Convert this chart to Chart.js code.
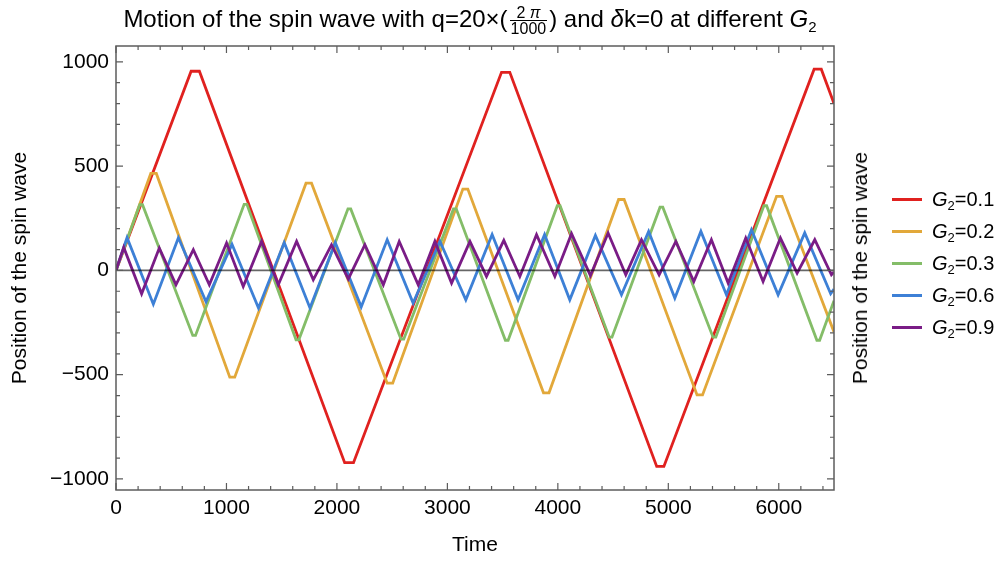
<!DOCTYPE html>
<html>
<head>
<meta charset="utf-8">
<script src="https://cdn.jsdelivr.net/npm/chart.js@4.4.1/dist/chart.umd.min.js"></script>
<style>
  body { margin: 0; background: #fff; }
  #wrap { position: relative; width: 996px; height: 563px; font-family: "Liberation Sans", Arial, sans-serif; color: #000; }
  #title { position: absolute; left: 0; top: 3px; width: 940px; text-align: center; font-size: 24px; line-height: 32px; white-space: nowrap; }
  .frac { display: inline-block; vertical-align: middle; text-align: center; font-size: 16px; line-height: 15px; margin: 0 2px; }
  .frac span { display: block; padding: 0 1px; }
  .frac span:first-child { border-bottom: 1px solid #000; }
  #title sub { font-size: 15px; vertical-align: -5px; line-height: 0; }
  #rtitle { position: absolute; left: 860px; top: 268px; transform: translate(-50%, -50%) rotate(-90deg); font-size: 21px; white-space: nowrap; }
  #legend { position: absolute; left: 892px; top: 183px; font-size: 20px; }
  #legend sub { font-size: 13px; vertical-align: -4px; line-height: 0; }
  .row { height: 32px; display: flex; align-items: center; }
  .sw { width: 30px; height: 3px; margin-right: 10px; }
</style>
</head>
<body>
<div id="wrap">
  <canvas id="chart" width="996" height="563"></canvas>
  <div id="title">Motion of the spin wave with q=20×(<span class="frac"><span>2 <i>π</i></span><span>1000</span></span>) and <i>δ</i>k=0 at different <i>G</i><sub>2</sub></div>
  <div id="rtitle">Position of the spin wave</div>
  <div id="legend"></div>
</div>
<script>
/* ---------- data (time, position) ---------- */
const labels = ["0.1", "0.2", "0.3", "0.6", "0.9"];
const colors = ["#e0211f", "#e2a83a", "#84bd68", "#3d80d6", "#7a1c86"];

const xTicks = [0, 1000, 2000, 3000, 4000, 5000, 6000];
const yTicks = [-1000, -500, 0, 500, 1000];

const t01 = [0, 680, 755, 2070, 2150, 3490, 3565, 4895, 4960, 6320, 6385, 6500];
const v01 = [0, 955, 955, -922, -922, 950, 950, -940, -940, 965, 965, 800];

const t02 = [0, 315, 365, 1030, 1075, 1720, 1770, 2455, 2505, 3140, 3185, 3870, 3920, 4550, 4600, 5260, 5310, 5980, 6030, 6500];
const v02 = [0, 465, 465, -512, -512, 418, 418, -541, -541, 390, 390, -587, -587, 340, 340, -597, -597, 355, 355, -295];

const t03 = [0, 215, 240, 695, 720, 1160, 1185, 1630, 1655, 2100, 2125, 2580, 2605, 3055, 3080, 3525, 3550, 3995, 4020, 4465, 4490, 4925, 4950, 5405, 5430, 5865, 5890, 6345, 6370, 6500];
const v03 = [0, 315, 315, -312, -312, 317, 317, -333, -333, 295, 295, -330, -330, 295, 295, -335, -335, 310, 310, -320, -320, 303, 303, -320, -320, 310, 310, -335, -335, -145];

const t06 = [0, 100, 338, 565, 815, 1050, 1290, 1523, 1756, 1985, 2220, 2455, 2690, 2932, 3167, 3405, 3640, 3880, 4108, 4340, 4576, 4822, 5059, 5295, 5526, 5753, 5994, 6235, 6470, 6500];
const v06 = [0, 157, -162, 157, -150, 125, -180, 133, -180, 133, -175, 147, -157, 140, -141, 172, -141, 172, -141, 168, -117, 187, -133, 187, -117, 195, -117, 180, -112, -90];

const t09 = [0, 70, 232, 392, 543, 700, 845, 1001, 1152, 1318, 1469, 1635, 1786, 1951, 2103, 2253, 2420, 2564, 2736, 2887, 3038, 3204, 3354, 3511, 3656, 3807, 3973, 4124, 4295, 4455, 4615, 4757, 4917, 5068, 5231, 5390, 5542, 5701, 5858, 6015, 6166, 6326, 6477, 6500];
const v09 = [0, 110, -112, 107, -69, 99, -69, 131, -77, 139, -69, 139, -45, 123, -41, 123, -69, 139, -69, 139, -61, 139, -29, 144, -29, 171, -29, 176, -25, 179, -21, 147, -21, 139, -53, 147, -61, 155, -53, 155, -13, 147, -21, -8];

const times = [t01, t02, t03, t06, t09];
const values = [v01, v02, v03, v06, v09];

/* ---------- frame, inward ticks, zero axis ---------- */
const framePlugin = {
  id: "frame",
  afterDatasetsDraw(chart) {
    const { ctx, chartArea: a, scales: { x, y } } = chart;
    ctx.save();
    // zero axis line
    ctx.strokeStyle = "rgba(0,0,0,0.6)";
    ctx.lineWidth = 1.8;
    const y0 = y.getPixelForValue(0);
    ctx.beginPath();
    ctx.moveTo(a.left, y0);
    ctx.lineTo(a.right, y0);
    ctx.stroke();

    // frame
    ctx.strokeStyle = "#5c5c5c";
    ctx.lineWidth = 1.5;
    ctx.strokeRect(a.left, a.top, a.right - a.left, a.bottom - a.top);

    // ticks (major + minor, on all four sides, pointing in)
    ctx.lineWidth = 1.2;
    ctx.beginPath();
    for (let t = 0; t <= 6500; t += 200) {
      const px = x.getPixelForValue(t);
      const len = t % 1000 === 0 ? 7 : 4;
      ctx.moveTo(px, a.bottom); ctx.lineTo(px, a.bottom - len);
      ctx.moveTo(px, a.top); ctx.lineTo(px, a.top + len);
    }
    for (let v = -1000; v <= 1000; v += 100) {
      const py = y.getPixelForValue(v);
      const len = v % 500 === 0 ? 7 : 4;
      ctx.moveTo(a.left, py); ctx.lineTo(a.left + len, py);
      ctx.moveTo(a.right, py); ctx.lineTo(a.right - len, py);
    }
    ctx.stroke();
    ctx.restore();
  }
};

const datasets = times.map((ts, i) => ({
  label: "G2=" + labels[i],
  data: ts.map((t, k) => ({ x: t, y: values[i][k] })),
  borderColor: colors[i],
  borderWidth: 2.8,
  pointRadius: 0,
  tension: 0,
  fill: false,
  order: 5 - i
}));

const minus = v => (v < 0 ? "\u2212" + Math.abs(v) : String(v));
const tickFont = { family: "Liberation Sans", size: 21 };

new Chart(document.getElementById("chart"), {
  type: "line",
  data: { datasets },
  plugins: [framePlugin],
  options: {
    responsive: false,
    animation: false,
    devicePixelRatio: 1,
    layout: { padding: { top: 46, right: 162, left: 0, bottom: 0 } },
    plugins: { legend: { display: false }, tooltip: { enabled: false } },
    scales: {
      x: {
        type: "linear",
        min: 0,
        max: 6500,
        afterFit: s => { s.height = 73; },
        afterBuildTicks: s => { s.ticks = xTicks.map(v => ({ value: v })); },
        grid: { display: false, drawTicks: false },
        border: { display: false },
        ticks: {
          autoSkip: false,
          padding: 6,
          maxRotation: 0,
          color: "#000",
          font: tickFont,
          callback: v => String(v)
        },
        title: {
          display: true,
          text: "Time",
          color: "#000",
          font: tickFont,
          padding: { top: 0, bottom: 5 }
        }
      },
      y: {
        type: "linear",
        min: -1053,
        max: 1076,
        afterFit: s => { s.width = 116; },
        afterBuildTicks: s => { s.ticks = yTicks.map(v => ({ value: v })); },
        grid: { display: false, drawTicks: false },
        border: { display: false },
        ticks: {
          autoSkip: false,
          padding: 7,
          color: "#000",
          font: tickFont,
          callback: v => minus(v)
        },
        title: {
          display: true,
          text: "Position of the spin wave",
          color: "#000",
          font: tickFont,
          padding: { top: 8, bottom: 0 }
        }
      }
    }
  }
});

/* ---------- legend ---------- */
document.getElementById("legend").innerHTML = labels.map((l, i) =>
  `<div class="row"><div class="sw" style="background:${colors[i]}"></div><span><i>G</i><sub>2</sub>=${l}</span></div>`
).join("");
</script>
</body>
</html>
